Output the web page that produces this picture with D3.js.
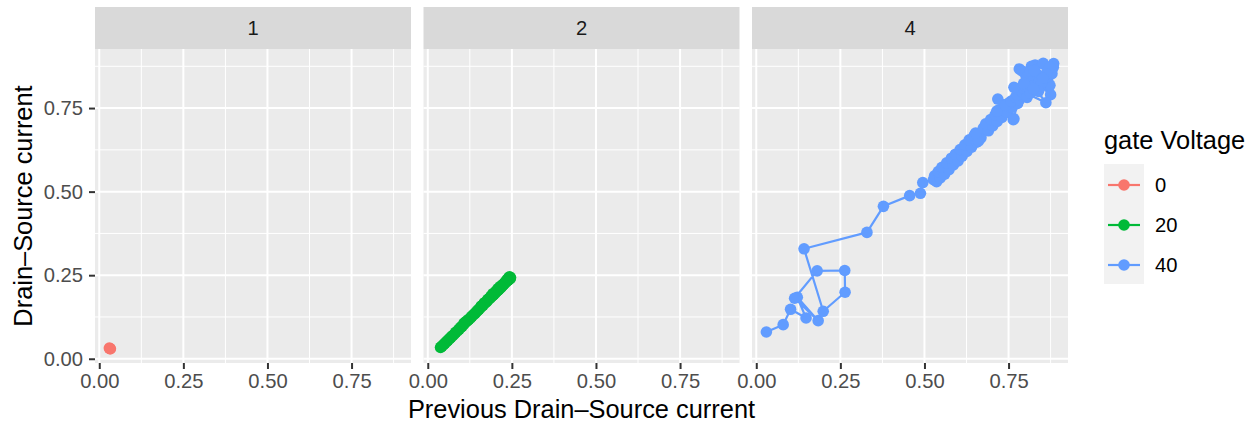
<!DOCTYPE html>
<html>
<head>
<meta charset="utf-8">
<script src="https://cdn.jsdelivr.net/npm/d3@7"></script>
<style>
  body { margin: 0; background: #fff; }
  svg { display: block; font-family: "Liberation Sans", Arial, sans-serif; }
</style>
</head>
<body>
<div id="wrapper"></div>
<script>
// facet labels and the gate voltage in each facet
const facetLabels = ["1", "2", "4"]
const gateVoltages = [0, 20, 40]
const gateColors = ["#F8766D", "#00BA38", "#619CFF"]

// drain-source current, in time order, per gate voltage
const current0 = [0.033, 0.030, 0.032, 0.030]

const current20 = [
  0.246, 0.243, 0.245, 0.240, 0.242, 0.239, 0.235, 0.236, 0.233, 0.230,
  0.229, 0.226, 0.223, 0.222, 0.219, 0.215, 0.216, 0.212, 0.208, 0.209,
  0.205, 0.202, 0.201, 0.197, 0.193, 0.194, 0.190, 0.187, 0.186, 0.182,
  0.179, 0.178, 0.175, 0.171, 0.168, 0.167, 0.164, 0.160, 0.158, 0.156,
  0.152, 0.148, 0.144, 0.140, 0.135, 0.131, 0.127, 0.122, 0.118, 0.114,
  0.111, 0.108, 0.106, 0.102, 0.097, 0.093, 0.088, 0.083, 0.079, 0.074,
  0.069, 0.065, 0.060, 0.056, 0.051, 0.047, 0.042, 0.038, 0.034,
]

const current40 = [
  0.030, 0.080, 0.102, 0.148, 0.122, 0.184, 0.114, 0.181, 0.263, 0.264,
  0.199, 0.142, 0.329, 0.378, 0.456, 0.488, 0.495, 0.527, 0.536, 0.530,
  0.547, 0.541, 0.560, 0.552, 0.573, 0.566, 0.586, 0.580, 0.600, 0.592,
  0.612, 0.606, 0.626, 0.620, 0.640, 0.633, 0.655, 0.648, 0.668, 0.661,
  0.652, 0.675, 0.690, 0.682, 0.703, 0.697, 0.716, 0.710, 0.730, 0.722,
  0.745, 0.737, 0.760, 0.752, 0.766, 0.718, 0.777, 0.764, 0.715, 0.741,
  0.758, 0.771, 0.783, 0.776, 0.790, 0.798, 0.805, 0.782, 0.867, 0.829,
  0.879, 0.853, 0.884, 0.883, 0.872, 0.873, 0.818, 0.875, 0.790, 0.861,
  0.766, 0.812, 0.835, 0.806, 0.846, 0.828, 0.853, 0.837, 0.822, 0.850,
  0.843, 0.815, 0.860, 0.841, 0.830, 0.857, 0.848, 0.826, 0.862, 0.852,
  0.839, 0.800, 0.815, 0.795, 0.824, 0.808,
]

const tickValues = [0, 0.25, 0.5, 0.75]
const minorValues = [0.125, 0.375, 0.625, 0.875]

function drawChart() {
  // 1. Access data: pair each reading with the previous one
  const series = [current0, current20, current40]
  const facets = facetLabels.map((label, i) => ({
    label,
    gate: gateVoltages[i],
    color: gateColors[i],
    points: d3.pairs(series[i]).map(([prev, cur]) => ({ prev, cur })),
  }))
  const allPoints = facets.flatMap((f) => f.points)

  const xAccessor = (d) => d.prev
  const yAccessor = (d) => d.cur

  // 2. Create chart dimensions
  const dimensions = {
    width: 1258,
    height: 428,
    panelLeft: 95,
    panelTop: 49,
    panelWidth: 316,
    panelHeight: 314,
    panelGap: 12.5,
    stripHeight: 42,
  }
  const tickFont = "20.2px"
  const titleFont = "25.4px"

  // 3. Draw canvas
  const wrapper = d3
    .select("#wrapper")
    .append("svg")
    .attr("width", dimensions.width)
    .attr("height", dimensions.height)

  // 4. Create scales (ggplot-style 5% expansion)
  const expand = (ext) => {
    const pad = (ext[1] - ext[0]) * 0.05
    return [ext[0] - pad, ext[1] + pad]
  }

  const xScale = d3
    .scaleLinear()
    .domain(expand(d3.extent(allPoints, xAccessor)))
    .range([0, dimensions.panelWidth])

  const yScale = d3
    .scaleLinear()
    .domain(expand(d3.extent(allPoints, yAccessor)))
    .range([dimensions.panelHeight, 0])

  // 5. Draw panels
  facets.forEach((facet, i) => {
    const left =
      dimensions.panelLeft + i * (dimensions.panelWidth + dimensions.panelGap)

    const strip = wrapper
      .append("g")
      .attr("transform", `translate(${left}, ${dimensions.panelTop - dimensions.stripHeight})`)

    strip
      .append("rect")
      .attr("width", dimensions.panelWidth)
      .attr("height", dimensions.stripHeight)
      .attr("fill", "#D9D9D9")

    strip
      .append("text")
      .text(facet.label)
      .attr("x", dimensions.panelWidth / 2)
      .attr("y", dimensions.stripHeight / 2)
      .attr("dy", "0.36em")
      .attr("text-anchor", "middle")
      .style("font-size", tickFont)
      .style("fill", "#1A1A1A")

    const bounds = wrapper
      .append("g")
      .attr("transform", `translate(${left}, ${dimensions.panelTop})`)

    bounds
      .append("rect")
      .attr("width", dimensions.panelWidth)
      .attr("height", dimensions.panelHeight)
      .attr("fill", "#EBEBEB")

    const grid = bounds.append("g").attr("stroke", "#fff")

    grid
      .selectAll(".minor-x")
      .data(minorValues.filter((v) => v < xScale.domain()[1]))
      .join("line")
      .attr("x1", (d) => xScale(d))
      .attr("x2", (d) => xScale(d))
      .attr("y2", dimensions.panelHeight)
      .attr("stroke-width", 1)

    grid
      .selectAll(".minor-y")
      .data(minorValues.filter((v) => v < yScale.domain()[1]))
      .join("line")
      .attr("y1", (d) => yScale(d))
      .attr("y2", (d) => yScale(d))
      .attr("x2", dimensions.panelWidth)
      .attr("stroke-width", 1)

    grid
      .selectAll(".major-x")
      .data(tickValues)
      .join("line")
      .attr("x1", (d) => xScale(d))
      .attr("x2", (d) => xScale(d))
      .attr("y2", dimensions.panelHeight)
      .attr("stroke-width", 2)

    grid
      .selectAll(".major-y")
      .data(tickValues)
      .join("line")
      .attr("y1", (d) => yScale(d))
      .attr("y2", (d) => yScale(d))
      .attr("x2", dimensions.panelWidth)
      .attr("stroke-width", 2)

    // data: path in time order, then points
    const lineGenerator = d3
      .line()
      .x((d) => xScale(xAccessor(d)))
      .y((d) => yScale(yAccessor(d)))

    bounds
      .append("path")
      .datum(facet.points)
      .attr("d", lineGenerator)
      .attr("fill", "none")
      .attr("stroke", facet.color)
      .attr("stroke-width", 2.2)
      .attr("stroke-linejoin", "round")

    bounds
      .append("g")
      .selectAll("circle")
      .data(facet.points)
      .join("circle")
      .attr("cx", (d) => xScale(xAccessor(d)))
      .attr("cy", (d) => yScale(yAccessor(d)))
      .attr("r", 5.8)
      .attr("fill", facet.color)

    // x axis
    const xAxis = bounds
      .append("g")
      .attr("transform", `translate(0, ${dimensions.panelHeight})`)
      .call(
        d3
          .axisBottom(xScale)
          .tickValues(tickValues)
          .tickFormat(d3.format(".2f"))
          .tickSizeInner(6)
          .tickSizeOuter(0)
          .tickPadding(5)
      )
    xAxis.select(".domain").remove()
    xAxis.selectAll("line").attr("stroke", "#333").attr("stroke-width", 2)
    xAxis
      .selectAll("text")
      .style("font-size", tickFont)
      .style("font-family", "'Liberation Sans', Arial, sans-serif")
      .attr("fill", "#4D4D4D")

    // y axis only on the first panel
    if (i === 0) {
      const yAxis = bounds
        .append("g")
        .call(
          d3
            .axisLeft(yScale)
            .tickValues(tickValues)
            .tickFormat(d3.format(".2f"))
            .tickSizeInner(6)
            .tickSizeOuter(0)
            .tickPadding(6)
        )
      yAxis.select(".domain").remove()
      yAxis.selectAll("line").attr("stroke", "#333").attr("stroke-width", 2)
      yAxis
        .selectAll("text")
        .style("font-size", tickFont)
        .style("font-family", "'Liberation Sans', Arial, sans-serif")
        .attr("fill", "#4D4D4D")
    }
  })

  // 6. Axis titles
  const panelsRight =
    dimensions.panelLeft + 3 * dimensions.panelWidth + 2 * dimensions.panelGap

  wrapper
    .append("text")
    .text("Previous Drain\u2013Source current")
    .attr("x", (dimensions.panelLeft + panelsRight) / 2)
    .attr("y", 418)
    .attr("text-anchor", "middle")
    .style("font-size", titleFont)
    .style("fill", "#000")

  wrapper
    .append("text")
    .text("Drain\u2013Source current")
    .attr(
      "transform",
      `translate(31.5, ${dimensions.panelTop + dimensions.panelHeight / 2}) rotate(-90)`
    )
    .attr("text-anchor", "middle")
    .style("font-size", titleFont)
    .style("fill", "#000")

  // 7. Legend
  const legend = wrapper.append("g").attr("transform", "translate(1104, 0)")

  legend
    .append("text")
    .text("gate Voltage")
    .attr("y", 149)
    .style("font-size", titleFont)
    .style("fill", "#000")

  const keySize = 40
  const keys = legend
    .selectAll(".key")
    .data(facets)
    .join("g")
    .attr("transform", (d, i) => `translate(0, ${164 + i * keySize})`)

  keys
    .append("rect")
    .attr("width", keySize)
    .attr("height", keySize)
    .attr("fill", "#F2F2F2")

  keys
    .append("line")
    .attr("x1", 4)
    .attr("x2", 36)
    .attr("y1", keySize / 2 + 1)
    .attr("y2", keySize / 2 + 1)
    .attr("stroke", (d) => d.color)
    .attr("stroke-width", 2.2)

  keys
    .append("circle")
    .attr("cx", keySize / 2)
    .attr("cy", keySize / 2 + 1)
    .attr("r", 5.8)
    .attr("fill", (d) => d.color)

  keys
    .append("text")
    .text((d) => d.gate)
    .attr("x", 51)
    .attr("y", keySize / 2 + 1)
    .attr("dy", "0.36em")
    .style("font-size", tickFont)
    .style("fill", "#000")
}

drawChart()
</script>
</body>
</html>
